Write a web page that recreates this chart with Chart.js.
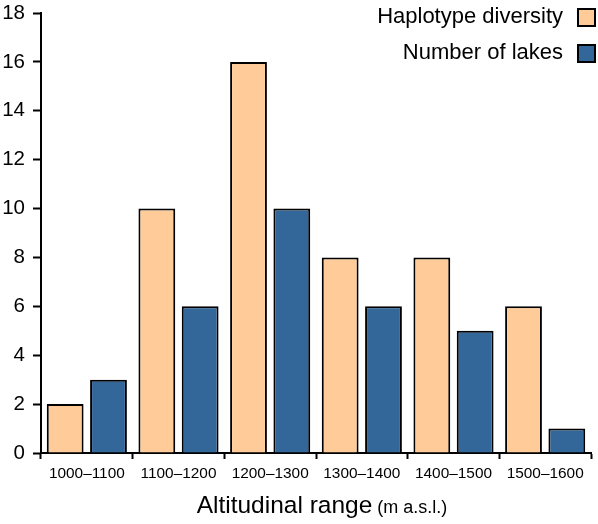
<!DOCTYPE html>
<html>
<head>
<meta charset="utf-8">
<script src="https://cdn.jsdelivr.net/npm/chart.js@4.4.1/dist/chart.umd.min.js"></script>
<style>
  html, body { margin: 0; padding: 0; background: #fff; }
  #wrap { width: 598px; height: 524px; position: relative; }
</style>
</head>
<body>
<div id="wrap"><canvas id="chart"></canvas></div>
<script>
// Données
const categories = ['1000–1100', '1100–1200', '1200–1300', '1300–1400', '1400–1500', '1500–1600'];
const haplotypeDiversity = [2, 10, 16, 8, 8, 6];
const numberOfLakes = [3, 6, 10, 6, 5, 1];
const seriesNames = ['Haplotype diversity', 'Number of lakes'];
const seriesColors = ['#FFCC99', '#336699'];

const font = '"Liberation Sans", Arial, sans-serif';

// Légende à droite (texte puis carré) et titre de l'axe x en deux tailles
const customDraw = {
  id: 'customDraw',
  afterDraw(chart) {
    const ctx = chart.ctx;
    ctx.save();
    // légende
    const rows = [17, 53];
    chart.data.datasets.forEach((ds, i) => {
      const y = rows[i];
      ctx.font = '22px ' + font;
      ctx.fillStyle = '#000';
      ctx.textAlign = 'right';
      ctx.textBaseline = 'middle';
      ctx.fillText(ds.label, 563, y);
      ctx.fillStyle = ds.backgroundColor;
      ctx.fillRect(578, y - 8, 17, 17);
      ctx.lineWidth = 2;
      ctx.strokeStyle = '#000';
      ctx.strokeRect(578, y - 8, 17, 17);
    });
    // titre de l'axe x
    const t1 = 'Altitudinal range';
    const t2 = ' (m a.s.l.)';
    ctx.font = '24.5px ' + font;
    const w1 = ctx.measureText(t1).width;
    ctx.font = '18px ' + font;
    const w2 = ctx.measureText(t2).width;
    const xs = 322 - (w1 + w2) / 2;
    ctx.textAlign = 'left';
    ctx.textBaseline = 'alphabetic';
    ctx.fillStyle = '#000';
    ctx.font = '24.5px ' + font;
    ctx.fillText(t1, xs, 513);
    ctx.font = '18px ' + font;
    ctx.fillText(t2, xs + w1, 513);
    ctx.restore();
  }
};

new Chart(document.getElementById('chart').getContext('2d'), {
  type: 'bar',
  data: {
    labels: categories,
    datasets: [
      { label: seriesNames[0], data: haplotypeDiversity, backgroundColor: seriesColors[0] },
      { label: seriesNames[1], data: numberOfLakes, backgroundColor: seriesColors[1] }
    ]
  },
  options: {
    responsive: true,
    maintainAspectRatio: false,
    animation: false,
    layout: { padding: { top: 13, right: 7, left: 0, bottom: 0 } },
    datasets: {
      bar: {
        borderColor: '#000',
        borderWidth: 2,
        categoryPercentage: 0.945,
        barPercentage: 0.85
      }
    },
    plugins: {
      legend: { display: false },
      tooltip: { enabled: false }
    },
    scales: {
      x: {
        offset: true,
        grid: {
          offset: true,
          drawOnChartArea: false,
          drawTicks: true,
          tickLength: 6,
          tickWidth: 2,
          tickColor: '#000'
        },
        border: { color: '#000', width: 2 },
        ticks: {
          color: '#000',
          font: { family: font, size: 15.4 },
          padding: 6,
          maxRotation: 0
        },
        afterFit(scale) { scale.height = 71; }
      },
      y: {
        min: 0,
        max: 18,
        ticks: {
          stepSize: 2,
          color: '#000',
          font: { family: font, size: 20.5 },
          padding: 8
        },
        grid: {
          drawOnChartArea: false,
          tickLength: 8,
          tickWidth: 2,
          tickColor: '#000'
        },
        border: { color: '#000', width: 2 },
        afterFit(scale) {
          scale.width = 41;
          scale.paddingTop = 0;
          scale.paddingBottom = 0;
        }
      }
    }
  },
  plugins: [customDraw]
});
</script>
</body>
</html>
